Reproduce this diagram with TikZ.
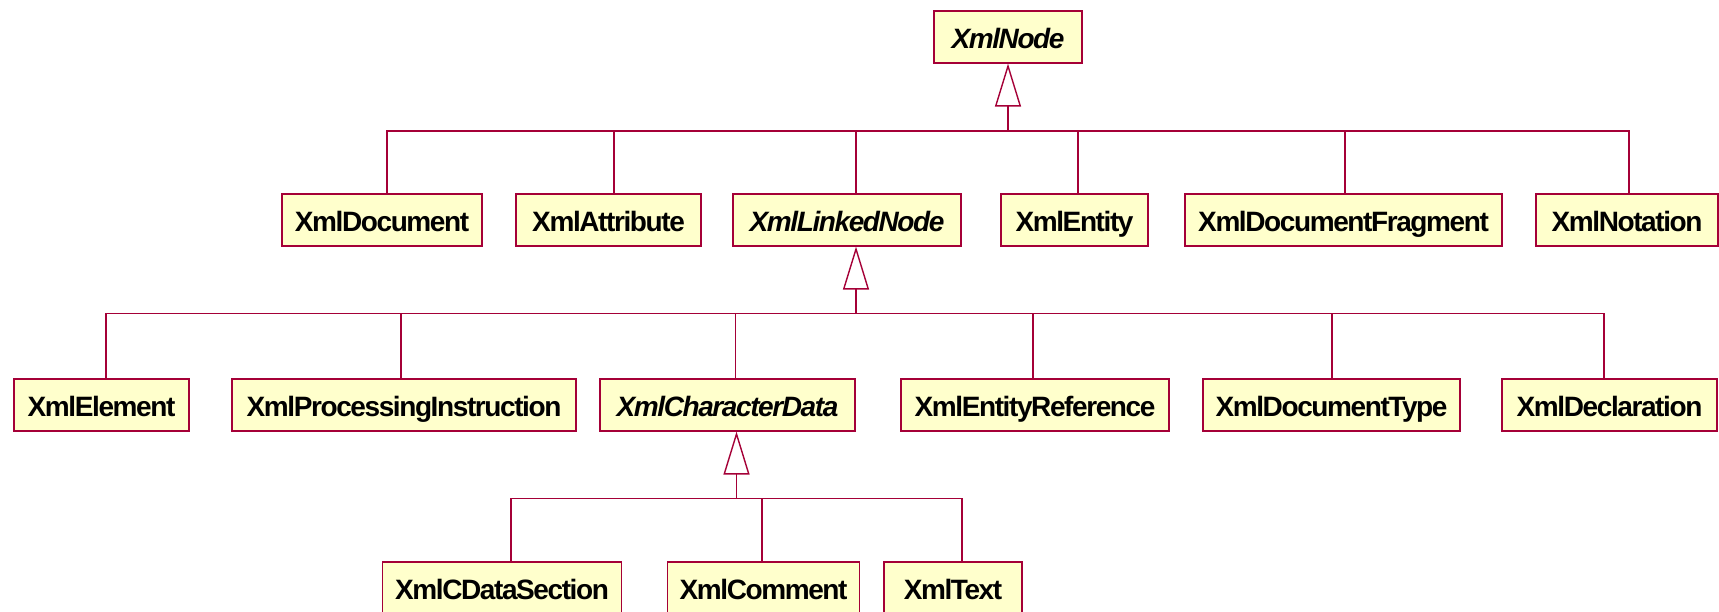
\documentclass[tikz,border=0pt]{standalone}
\usepackage{fontspec}
\setmainfont{Liberation Sans}[LetterSpace=-5]
\usetikzlibrary{arrows.meta,calc}
\definecolor{umlred}{RGB}{165,0,55}
\definecolor{umlfill}{RGB}{255,255,204}

\begin{document}
\begin{tikzpicture}[x=1pt,y=-1pt,font=\fontsize{28}{32}\selectfont\bfseries,
 cls/.style={draw=umlred,fill=umlfill,line width=1.2pt,inner sep=0pt,minimum height=52pt,text height=23pt,text depth=0pt},
 abs/.style={cls,font=\fontsize{28}{32}\selectfont\bfseries\itshape},
 inh/.style={draw=umlred,line width=1.4pt,-{Triangle[open,length=43pt,width=26pt,fill=white]}},
 lnk/.style={draw=umlred,line width=1.4pt}]
 \useasboundingbox (0,0) rectangle (1719,611);
 % classes
 \node[abs,minimum width=148pt] (xmlnode) at (1008,37) {XmlNode};
 \node[cls,minimum width=200pt] (document) at (382,220) {XmlDocument};
 \node[cls,minimum width=185pt] (attribute) at (608.5,220) {XmlAttribute};
 \node[abs,minimum width=228pt] (linkednode) at (847,220) {XmlLinkedNode};
 \node[cls,minimum width=147pt] (entity) at (1074.5,220) {XmlEntity};
 \node[cls,minimum width=317pt] (fragment) at (1343.5,220) {XmlDocumentFragment};
 \node[cls,minimum width=182pt] (notation) at (1627,220) {XmlNotation};
 \node[cls,minimum width=175pt] (element) at (101.5,405) {XmlElement};
 \node[cls,minimum width=344pt] (procinstr) at (404,405) {XmlProcessingInstruction};
 \node[abs,minimum width=255pt] (chardata) at (727.5,405) {XmlCharacterData};
 \node[cls,minimum width=268pt] (entityref) at (1035,405) {XmlEntityReference};
 \node[cls,minimum width=257pt] (doctype) at (1331.5,405) {XmlDocumentType};
 \node[cls,minimum width=215pt] (declaration) at (1609.5,405) {XmlDeclaration};
 \node[cls,minimum width=239pt] (cdata) at (502,588) {XmlCDataSection};
 \node[cls,minimum width=192pt] (comment) at (763.5,588) {XmlComment};
 \node[cls,minimum width=138pt] (text) at (953,588) {XmlText};
 % generalisation trees
 \coordinate (j0) at ($(xmlnode.south)+(0,67.5)$);
 \coordinate (j1) at ($(linkednode.south)+(9,67)$);
 \coordinate (j2) at ($(chardata.south)+(9,67)$);
 \draw[inh] (j0) -- (xmlnode);
 \draw[inh] (j1) -- (j1 |- linkednode.south);
 \draw[inh] (j2) -- (j2 |- chardata.south);
 \foreach \c/\d in {document/5,attribute/5.5,linkednode/9,entity/3.5,fragment/1.5,notation/2}
  \draw[lnk] ([xshift=\d]\c.north) |- (j0);
 \foreach \c/\d in {element/4.5,procinstr/-3,chardata/8,entityref/-2,doctype/0.5,declaration/-5.5}
  \draw[lnk] ([xshift=\d]\c.north) |- (j1);
 \foreach \c/\d in {cdata/9,comment/-1.5,text/9}
  \draw[lnk] ([xshift=\d]\c.north) |- (j2);
\end{tikzpicture}
\end{document}
